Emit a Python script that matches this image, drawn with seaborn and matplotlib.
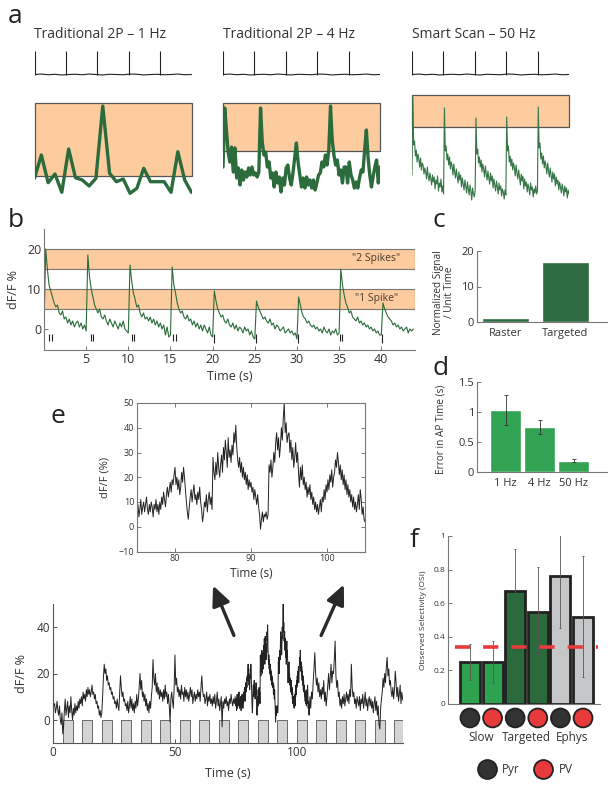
import numpy as np
import pandas as pd
import matplotlib
matplotlib.use("Agg")
import matplotlib.pyplot as plt
from matplotlib.patches import Rectangle, FancyArrowPatch
import seaborn as sns

# ---------------- DATA ----------------
# panel a
a_titles = ["Traditional 2P \u2013 1 Hz", "Traditional 2P \u2013 4 Hz", "Smart Scan \u2013 50 Hz"]
a_spike_times = [0.0, 4.6, 9.2, 13.8, 18.4]
a_ephys_noise = [0.0, 0.02, -0.01, 0.01, -0.02, 0.0, 0.01, -0.01, 0.02, 0.0, -0.02, 0.01,
                 0.0, -0.01, 0.02, 0.01, -0.02, 0.0, 0.01, -0.01, 0.0, 0.02, -0.01, 0.0]
a_trace_1hz = [24.7, 48, 20.3, 29, 10.7, 54, 25.3, 23, 17, 24.7, 97, 29.7, 21.3, 24, 9.7,
               14.7, 34.7, 21.3, 21.3, 21.3, 10.7, 51.3, 23, 10.7]
a_trace_4hz = [36, 95, 73, 51, 41, 56, 31, 55, 25, 35, 18, 33, 23, 31, 26, 35, 28, 36, 28, 30, 26, 31,
               95, 61, 48, 51, 36, 41, 25, 30, 16, 31, 20, 26, 11, 25, 18, 35, 38, 25, 18, 30, 45,
               60, 41, 28, 16, 25, 15, 26, 18, 23, 15, 23, 13, 20, 28, 30, 41, 36, 48, 38, 53,
               97, 63, 48, 38, 43, 28, 33, 20, 36, 36, 20, 41, 28, 23, 15, 21,
               15, 25, 33, 31, 53, 73, 46, 28, 16, 27, 36, 43, 20, 36]
a_trace_50hz = [28, 106, 58, 62, 47, 53, 41, 49, 44, 36, 45, 33, 40, 38, 29, 35, 31, 24, 36, 27,
                22, 30, 25, 18, 28, 21, 26, 14, 23, 19, 27, 12, 20, 16, 24, 11, 17,
                9, 95, 52, 57, 43, 49, 38, 46, 34, 41, 37, 28, 39, 31, 25, 34, 27, 20, 31, 23,
                28, 16, 25, 19, 13, 23, 17, 10, 21, 14, 8, 18, 12, 3, 15, 9, 6,
                12, 85, 49, 54, 40, 46, 36, 43, 31, 39, 34, 26, 37, 29, 23, 32, 25, 19, 30, 22,
                27, 15, 24, 18, 12, 22, 16, 9, 20, 13, 17, 7, 14, 11, 4, 13, 8,
                86, 52, 57, 41, 47, 37, 44, 33, 40, 35, 27, 38, 30, 24, 33, 26, 18, 29, 22, 27,
                14, 24, 17, 21, 11, 19, 15, 8, 20, 13, 16, 6, 14, 10, 17, 9, 12,
                96, 55, 60, 44, 50, 39, 47, 35, 42, 37, 29, 40, 32, 26, 35, 28, 21, 31, 24, 29,
                17, 26, 19, 23, 13, 21, 16, 10, 19, 14, 7, 17, 11, 15, 5, 13, 9]
a_box_lo = [27, 52, 76]
a_box_hi = [100, 100, 108]

# panel b (5 samples / s)
b_trace = ([0.5, 20, 15, 11, 9.5, 8, 6.5, 5.5, 6, 4, 3.5, 4.5, 2.5, 3, 1.5, 2.5, 1, 2, 0.5, 1.5, 2, 0.5, 1.5, 0, 1]
           + [-0.5, 18.5, 13, 10, 8, 6, 5, 4, 5, 3, 2.5, 3.5, 2, 1, 2.5, 1.5, 0.5, 2, 1, 0, 1.5, 0.5, 2, 0, -0.5]
           + [-1, 16, 12, 9, 7.5, 5.5, 6, 4, 3, 4, 2.5, 3, 2, 3, 1.5, 2.5, 1, 2, 0.5, 1.5, 0, 1, -1.5, 0.5, -2]
           + [-1.5, 15.5, 11, 9, 6.5, 5, 4, 4.5, 3, 2.5, 3.5, 2, 2.5, 1, 2, 0.5, 1.5, 0, 1, -0.5, 1, 0, -1, 0.5, -1.5]
           + [-2, 9.5, 7, 5, 4, 3, 3.5, 2, 1.5, 2.5, 1, 0.5, 1.5, 0, 1, -0.5, 0.5, 0, -1, 0.5, -0.5, 0, -1.5, -0.5, -2]
           + [-2.5, 7, 5.5, 4.5, 3.5, 2.5, 3, 2, 1.5, 2.5, 1, 1.5, 0, 1, 0.5, -0.5, 0, 0.5, -1, -0.5, 0, -1, -0.5, -1.5, -1]
           + [-2.5, 8, 6, 4, 3, 2.5, 1.5, 2, 1, 0.5, 1, 0, 0.5, -0.5, 0, -1, 0.5, -0.5, -1, 0, -1.5, -0.5, -1, 0, -1.5]
           + [-1, 15, 11, 8.5, 6.5, 5.5, 4, 4.5, 3, 2.5, 2, 3, 1.5, 2, 1, 1.5, 0.5, 1, 0, 0.5, -0.5, 0, -1, -0.5, -1.5]
           + [-1.5, 6.5, 5, 4, 3, 2.5, 2, 1, 1.5, 0.5, 1, 0, 0.5, -0.5, 0, 0.5, -1, 0, -0.5, 0])
b_doublet_spikes = [0.65, 0.95, 5.55, 5.85, 10.4, 10.7, 15.3, 15.6, 35.05, 35.35]
b_single_spikes = [20.2, 25.2, 30.1, 40.05]
b_bands = [(15, 20, '"2 Spikes"'), (5, 10, '"1 Spike"')]
b_xticks = [5, 10, 15, 20, 25, 30, 35, 40]

# panel c
c_cats = ["Raster", "Targeted"]
c_vals = [1.0, 17.0]

# panel d
d_cats = ["1 Hz", "4 Hz", "50 Hz"]
d_vals = [1.03, 0.75, 0.19]
d_err = [0.25, 0.11, 0.02]

# panel e : 0-75 s at 3 samples/s, 75-105 s at 8 samples/s, 105-144 s at 3 samples/s
e_trace_early = ([8, 6, 7, 3, 5, 8, 4, 2, 6, 0, -2, 3, -6, -3, 4]
                 + [9, 2, 5, 8, 1, 6, 3, 10, 4, 0, 5, 2, 7, 3, 6]
                 + [4, 8, 5, 9, 7, 10, 6, 12, 9, 11, 8, 13, 10, 14, 11]
                 + [13, 10, 12, 15, 11, 12, 9, 11, 7, 8, 5, 6, 2, 4, 1]
                 + [3, 10, 18, 24, 20, 22, 17, 19, 15, 16, 13, 14, 11, 12, 9]
                 + [10, 7, 8, 5, 9, 6, 4, 12, 19, 14, 10, 12, 8, 9, 6]
                 + [7, 4, 8, 3, 6, 10, 5, 9, 4, 7, 3, 8, 5, 11, 6]
                 + [9, 14, 20, 13, 17, 10, 12, 8, 11, 6, 9, 4, 7, 3, 8]
                 + [5, 10, 14, 26, 18, 15, 20, 12, 16, 11, 14, 9, 13, 10, 12]
                 + [8, 13, 9, 15, 10, 12, 7, 11, 6, -1, 9, 12, 8, 5, 14]
                 + [28, 15, 18, 12, 14, 10, 13, 9, 15, 11, 12, 8, 14, 10, 13]
                 + [9, 12, 8, 11, 14, 10, 13, 7, 10, 12, 8, 11, 9, 13, 10]
                 + [12, 8, 14, 19, 13, 10, 11, 7, 9, 12, 6, 10, 8, 11, 7]
                 + [9, 6, 10, 7, 11, 5, 8, 12, 6, 9, 4, 7, 10, -3, 8]
                 + [5, 9, 7, 10, 6, 8, 4, 9, 7, 11, 8, 6, 9, 7, 10])
e_trace_zoom = ([6, 9, 4, 7, 11, 5, 8, 10] + [6, 9, 12, 7, 5, 9, 6, 10] + [8, 4, 9, 7, 11, 6, 9, 5]
                + [10, 7, 12, 9, 14, 11, 8, 13] + [16, 12, 15, 18, 14, 19, 17, 21]
                + [24, 17, 20, 15, 19, 13, 16, 22] + [18, 24, 20, 15, 10, 6, 3, 8]
                + [12, 15, 10, 14, 17, 11, 13, 9] + [14, 11, 16, 10, 7, 2, 5, 10]
                + [8, 13, 6, 11, 14, 9, 12, 7] + [28, 22, 19, 26, 21, 30, 24, 20]
                + [25, 29, 22, 32, 27, 35, 30, 24] + [36, 28, 31, 26, 33, 29, 38, 34]
                + [41, 32, 27, 24, 28, 22, 26, 20] + [24, 19, 22, 17, 21, 15, 19, 16]
                + [18, 14, 16, 11, 15, 12, 9, 13] + [8, 5, -1, 3, 6, 2, 5, 4]
                + [6, 3, 5, 25, 22, 27, 20, 24] + [30, 26, 34, 38, 31, 36, 28, 33]
                + [40, 35, 44, 50, 38, 42, 34, 37] + [38, 30, 35, 27, 32, 24, 28, 34]
                + [26, 30, 22, 16, 24, 19, 25, 17] + [20, 15, 18, 12, 16, 13, 17, 11]
                + [14, 9, 12, 7, 10, 6, 9, 5] + [8, 11, 6, 12, 10, 15, 11, 17]
                + [14, 19, 15, 21, 18, 23, 16, 20] + [22, 27, 24, 30, 26, 21, 25, 19]
                + [23, 17, 21, 15, 19, 13, 17, 12] + [15, 10, 13, 8, 12, 7, 10, 6]
                + [9, 13, 7, 15, 11, 5, 8, 3])
e_trace_late = ([2, 10, 5, 12, 9, 16, 22, 29, 20, 15, 18, 12, 16, 10, 13]
                + [9, 14, 11, 17, 8, 12, 6, 10, 15, 20, 13, 18, 24, 16, 21]
                + [20, 26, 34, 19, 14, 17, 10, 12, 6, 9, 5, 10, 7, 11, 6]
                + [9, 12, 8, 11, 7, 13, 10, 24, 14, 10, 12, 7, 9, 5, 10]
                + [8, 6, 10, 4, 9, 7, 11, 5, 8, 12, 6, 9, 4, 8, 10]
                + [6, 9, 5, 8, 3, 7, 10, 4, 8, 2, 6, -2, -4, 5, 9]
                + [12, 18, 14, 20, 16, 23, 27, 19, 22, 15, 17, 12, 10, 14, 9]
                + [13, 21, 16, 10, 14, 8, 11, 15, 7, 12, 9, 8])
e_stim_on = [4, 12, 20, 28, 36, 44, 52, 60, 68, 76, 84, 92, 100, 108, 116, 124, 132, 140]
e_stim_dur = 4
e_inset_xticks = [80, 90, 100]
e_inset_yticks = [-10, 0, 10, 20, 30, 40, 50]

# panel f
f_cats = ["Slow Pyr", "Slow PV", "Targeted Pyr", "Targeted PV", "Ephys Pyr", "Ephys PV"]
f_vals = [0.25, 0.25, 0.67, 0.55, 0.76, 0.52]
f_err = [0.11, 0.125, 0.25, 0.265, 0.31, 0.36]
f_chance = 0.34
f_groups = ["Slow", "Targeted", "Ephys"]
f_cell = ["Pyr", "PV", "Pyr", "PV", "Pyr", "PV"]

# ---------------- STYLE ----------------
sns.set_theme(style="white")
plt.rcParams["font.family"] = ["Open Sans", "DejaVu Sans"]
plt.rcParams["axes.unicode_minus"] = True

PEACH = "#fccc9e"
TRACE_GREEN = "#2b6b3c"
C_GREEN = "#2f6b40"
D_GREEN = "#31a352"
F_COLORS = ["#2fa24f", "#2fa24f", "#2b6a3a", "#2b6a3a", "#c4c6c8", "#c4c6c8"]
RED = "#e83a3b"
PYR = "#333333"
CELL_COLOR = {"Pyr": PYR, "PV": RED}
SPINE = "#777777"
TXT = "#333333"

W, H = 615.0, 788.0
fig = plt.figure(figsize=(6.15, 7.88), dpi=100)


def rect(x0, y0, x1, y1):
    return [x0 / W, 1 - y1 / H, (x1 - x0) / W, (y1 - y0) / H]


def style_axes(ax, fs, spines=("left", "bottom"), color=SPINE):
    for s in ["left", "right", "top", "bottom"]:
        ax.spines[s].set_visible(s in spines)
        ax.spines[s].set_color(color)
        ax.spines[s].set_linewidth(0.8)
    ax.tick_params(direction="in", length=3, width=0.7, colors=color, labelsize=fs,
                   labelcolor=TXT, pad=2,
                   left="left" in spines, bottom="bottom" in spines,
                   right=False, top=False)


# ---------------- PANEL A ----------------
cols = [(34.5, 191.5), (223, 380), (412, 569)]
traces = [a_trace_1hz, a_trace_4hz, a_trace_50hz]
lws = [2.4, 2.4, 0.8]
tcolors = [TRACE_GREEN, TRACE_GREEN, "#367547"]
for k, (x0, x1) in enumerate(cols):
    axe = fig.add_axes(rect(x0, 50, x1, 78))
    tt = np.linspace(0, 23, len(a_ephys_noise))
    sns.lineplot(x=tt, y=np.array(a_ephys_noise), ax=axe, color="#222222", linewidth=0.8,
                 estimator=None, sort=False)
    axe.vlines(a_spike_times, 0, 1, color="#222222", linewidth=0.8)
    axe.set_xlim(0, 23)
    axe.set_ylim(-0.152, 1.065)
    axe.axis("off")

    axc = fig.add_axes(rect(x0, 93, x1, 203))
    axc.add_patch(Rectangle((0, a_box_lo[k]), 23, a_box_hi[k] - a_box_lo[k], facecolor=PEACH,
                            edgecolor="#555555", linewidth=0.9, clip_on=False, zorder=0))
    v = np.array(traces[k], dtype=float)
    t = np.linspace(0, 23, len(v))
    sns.lineplot(x=t, y=v, ax=axc, color=tcolors[k], linewidth=lws[k], estimator=None,
                 sort=False, zorder=2)
    axc.set_xlim(0, 23)
    axc.set_ylim(0, 110)
    axc.axis("off")
    fig.text(x0 / W, 1 - 35 / H, a_titles[k], ha="left", va="center", fontsize=10, color=TXT)

# ---------------- PANEL B ----------------
axb = fig.add_axes(rect(44, 229, 415, 350))
for lo, hi, lab in b_bands:
    axb.axhspan(lo, hi, facecolor=PEACH, edgecolor="#777777", linewidth=0.8, zorder=0)
    axb.text(39.4, (lo + hi) / 2, lab, ha="center", va="center", fontsize=7.5, color="#4a3b30")
bv = np.array(b_trace, dtype=float)
bt = np.arange(len(bv)) / 5.0
sns.lineplot(x=bt, y=bv, ax=axb, color=TRACE_GREEN, linewidth=0.8, estimator=None, sort=False)
axb.vlines(b_doublet_spikes, -2.9, -1.2, color="#222222", linewidth=0.8)
axb.vlines(b_single_spikes, -3.6, -1.2, color="#222222", linewidth=0.8)
axb.set_xlim(0, 44)
axb.set_ylim(-5.25, 25)
axb.set_xticks(b_xticks)
axb.set_yticks([0, 10, 20])
style_axes(axb, 9)
axb.set_xlabel("Time (s)", fontsize=9, color=TXT)
axb.set_ylabel("dF/F %", fontsize=9, color=TXT)
axb.xaxis.set_label_coords(0.5, -0.22)
axb.xaxis.label.set_va("center")
axb.yaxis.set_label_coords(-0.081, 0.5)
axb.yaxis.label.set_va("center")

# ---------------- PANEL C ----------------
axcc = fig.add_axes(rect(477, 251, 607, 322))
sns.barplot(x=c_cats, y=c_vals, color=C_GREEN, width=0.79, ax=axcc, saturation=1)
axcc.set_xlim(-0.48, 1.705)
axcc.set_ylim(0, 20)
axcc.set_yticks([0, 10, 20])
style_axes(axcc, 8)
axcc.tick_params(axis="x", length=0, pad=4)
axcc.set_ylabel("Normalized Signal\n/ Unit Time", fontsize=7.2, color=TXT, linespacing=1.0)
axcc.yaxis.set_label_coords(-0.25, 0.42)
axcc.yaxis.label.set_va("center")

# ---------------- PANEL D ----------------
axd = fig.add_axes(rect(477, 382, 607, 472))
sns.barplot(x=d_cats, y=d_vals, color=D_GREEN, width=0.91, ax=axd, saturation=1)
axd.errorbar(range(len(d_vals)), d_vals, yerr=d_err, fmt="none", ecolor="#333333",
             elinewidth=0.6, capsize=1.5, capthick=0.6)
axd.set_xlim(-0.84, 2.985)
axd.set_ylim(0, 1.5)
axd.set_yticks([0, 0.5, 1, 1.5])
axd.set_yticklabels(["0", "0.5", "1", "1.5"])
style_axes(axd, 8)
axd.tick_params(axis="x", length=0, pad=4)
axd.set_ylabel("Error in AP Time (s)", fontsize=7.2, color=TXT)
axd.yaxis.set_label_coords(-0.28, 0.47)
axd.yaxis.label.set_va("center")

# ---------------- PANEL E ----------------
ev = np.array(e_trace_early + e_trace_zoom + e_trace_late, dtype=float)
et = np.concatenate([np.arange(len(e_trace_early)) / 3.0,
                     75 + np.arange(len(e_trace_zoom)) / 8.0,
                     105 + np.arange(len(e_trace_late)) / 3.0])

axi = fig.add_axes(rect(137, 403, 365, 551.5))
sns.lineplot(x=et, y=ev, ax=axi, color="#222222", linewidth=0.7, estimator=None, sort=False)
axi.set_xlim(75, 105)
axi.set_ylim(-10, 50)
axi.set_xticks(e_inset_xticks)
axi.set_yticks(e_inset_yticks)
style_axes(axi, 6.5, spines=("left", "bottom", "right", "top"), color="#777777")
axi.tick_params(right=True, top=True)
axi.set_xlabel("Time (s)", fontsize=8.5, color=TXT)
axi.set_ylabel("dF/F (%)", fontsize=8, color=TXT)
axi.xaxis.set_label_coords(0.5, -0.15)
axi.xaxis.label.set_va("center")
axi.yaxis.set_label_coords(-0.14, 0.5)
axi.yaxis.label.set_va("center")

axm = fig.add_axes(rect(53, 604, 403, 743))
axm.bar(e_stim_on, [10] * len(e_stim_on), width=e_stim_dur, bottom=-10, align="edge",
        color="#d4d4d4", edgecolor="#555555", linewidth=0.6, zorder=1)
sns.lineplot(x=et, y=ev, ax=axm, color="#222222", linewidth=0.7, estimator=None, sort=False,
             zorder=2)
axm.set_xlim(0, 143.5)
axm.set_ylim(-10, 50)
axm.set_xticks([0, 50, 100])
axm.set_yticks([0, 20, 40])
style_axes(axm, 8.5, color="#555555")
axm.set_xlabel("Time (s)", fontsize=9, color=TXT)
axm.set_ylabel("dF/F %", fontsize=9, color=TXT)
axm.xaxis.set_label_coords(0.5, -0.216)
axm.xaxis.label.set_va("center")
axm.yaxis.set_label_coords(-0.089, 0.5)
axm.yaxis.label.set_va("center")

for (tx, ty), (hx, hy) in [((235, 638), (212, 583)), ((320, 638), (345, 582))]:
    fig.add_artist(FancyArrowPatch(
        (tx / W, 1 - ty / H), (hx / W, 1 - hy / H), transform=fig.transFigure,
        arrowstyle="-|>,head_length=4.6,head_width=2.1", linewidth=2.4, color="#2a2a2a",
        mutation_scale=2.6))

# ---------------- PANEL F ----------------
axf = fig.add_axes(rect(448, 536, 600, 704))
sns.barplot(x=f_cats, y=f_vals, hue=f_cats, palette=F_COLORS, legend=False, width=0.885,
            edgecolor="#222222", linewidth=2.0, ax=axf, saturation=1)
axf.errorbar(range(len(f_vals)), f_vals, yerr=f_err, fmt="none", ecolor="#555555",
             elinewidth=0.6, capsize=1, capthick=0.6, zorder=4)
axf.plot([-0.66, 5.68], [f_chance, f_chance], color=RED, linewidth=2.6,
         linestyle=(0, (4.2, 3.6)), zorder=6, solid_capstyle="butt")
axf.set_xlim(-0.97, 5.75)
axf.set_ylim(0, 1)
axf.set_yticks([0, 0.2, 0.4, 0.6, 0.8, 1])
axf.set_yticklabels(["0", "0.2", "0.4", "0.6", "0.8", "1"])
style_axes(axf, 6)
axf.set_xticks([])
axf.set_ylabel("Observed Selectivity (OSI)", fontsize=6, color=TXT)
axf.yaxis.set_label_coords(-0.158, 0.5)
axf.yaxis.label.set_va("center")
axf.scatter(range(len(f_cell)), [-0.083] * len(f_cell), s=185,
            c=[CELL_COLOR[c] for c in f_cell], edgecolors="#222222", linewidths=1.3,
            clip_on=False, zorder=5)
for gi, g in enumerate(f_groups):
    axf.text(2 * gi + 0.5, -0.2, g, ha="center", va="center", fontsize=8.5, color=TXT)
for xc, xt, lab in [(0.756, 1.42, "Pyr"), (3.23, 3.94, "PV")]:
    axf.scatter([xc], [-0.387], s=185, c=[CELL_COLOR[lab]], edgecolors="#222222",
                linewidths=1.3, clip_on=False, zorder=5)
    axf.text(xt, -0.387, lab, ha="left", va="center", fontsize=8.5, color=TXT)

# ---------------- PANEL LETTERS ----------------
for lab, x, y in [("a", 8, 23), ("b", 8, 227), ("c", 433, 227), ("d", 433, 375),
                  ("e", 50, 423), ("f", 410, 547)]:
    fig.text(x / W, 1 - y / H, lab, fontsize=19, ha="left", va="baseline", color="#222222")

fig.savefig("out.png", dpi=100)
